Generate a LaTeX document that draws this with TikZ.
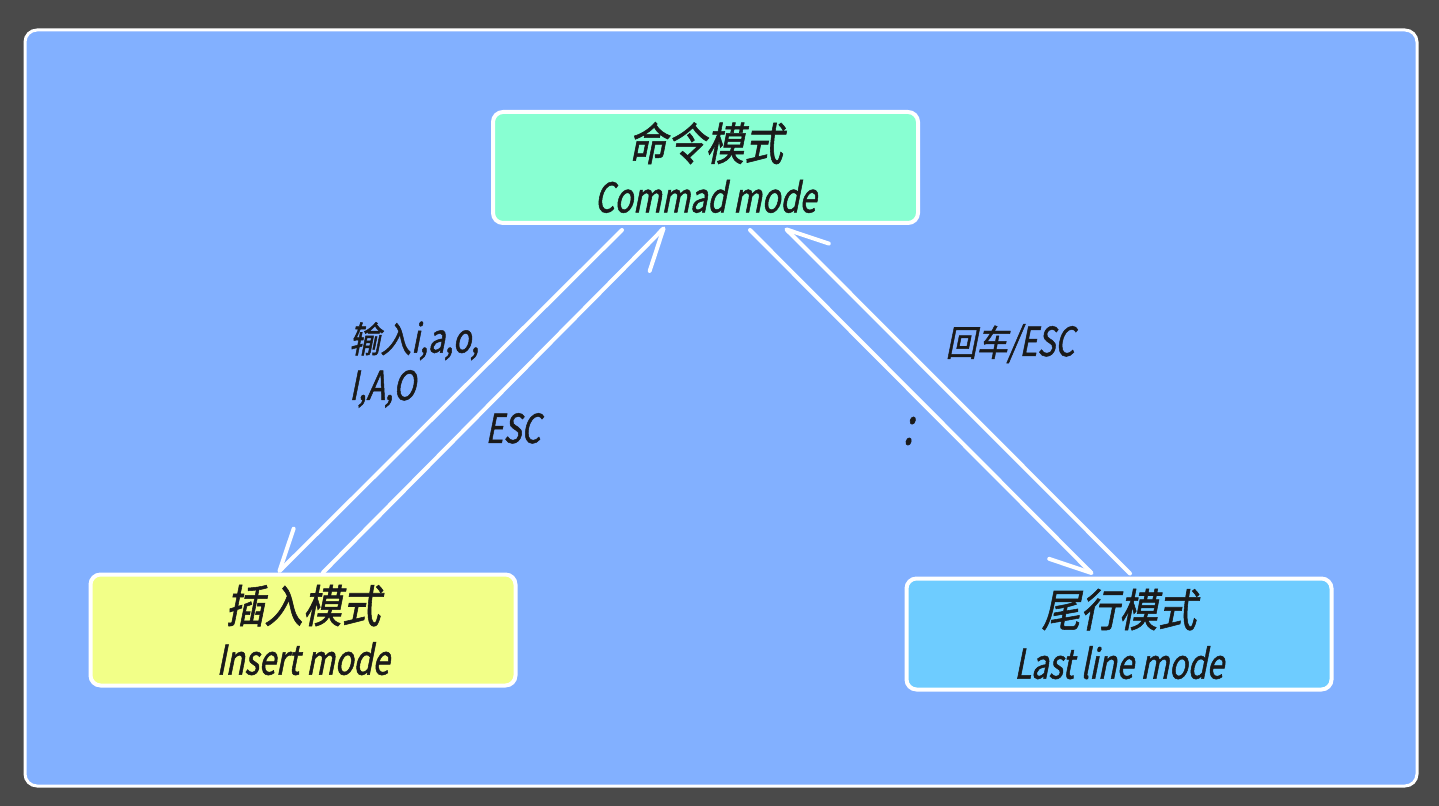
\documentclass[tikz,border=0pt]{standalone}
\usepackage{fontspec}
\usetikzlibrary{arrows.meta,calc}
\newfontfamily\cjkfont[FakeSlant=0.2,FakeStretch=0.86,FakeBold=1.2]{Noto Sans CJK SC}
\newfontfamily\latfont[FakeSlant=0.2,FakeStretch=0.75,FakeBold=1.2]{Noto Sans CJK SC}
\newcommand{\boxcjk}{\cjkfont\fontsize{22.5pt}{26pt}\selectfont}
\newcommand{\boxlat}{\latfont\fontsize{20.5pt}{26pt}\selectfont}
\newcommand{\labcjk}{\cjkfont\fontsize{18pt}{22.5pt}\selectfont}
\newcommand{\lablat}{\latfont\fontsize{20pt}{22.5pt}\selectfont}
\definecolor{bgc}{HTML}{4A4A4A}
\definecolor{panelc}{HTML}{82B0FF}
\definecolor{cmdc}{HTML}{88FFD2}
\definecolor{insc}{HTML}{F2FF88}
\definecolor{lastc}{HTML}{6ECCFF}
\definecolor{txtc}{HTML}{1A1A1A}
\begin{document}
\begin{tikzpicture}[x=0.5pt,y=-0.5pt,
  modebox/.style={draw=white, line width=2pt, rounded corners=5pt, minimum width=212.5pt, minimum height=55.5pt, outer sep=0pt, inner sep=0pt, align=center, text=txtc, font=\boxcjk},
  conn/.style={draw=white, line width=2pt, line cap=round, -{Straight Barb[harpoon,swap,length=20pt,width=20pt,round]}},
  lbl/.style={text=txtc, inner sep=0pt}]
\fill[bgc] (0,0) rectangle (1439,806);
\draw[white, line width=1.5pt, fill=panelc, rounded corners=6pt] (25,30) rectangle (1417,786);

\node[modebox, fill=cmdc] (cmd) at (705.5,167.5) {命令模式\\{\boxlat Commad mode}};
\node[modebox, fill=insc] (ins) at (303,630) {插入模式\\{\boxlat Insert mode}};
\node[modebox, fill=lastc] (last) at (1119,634) {尾行模式\\{\boxlat Last line mode}};

\draw[conn] ([shift={(-83.5,7)}]cmd.south) -- ([shift={(-25,-2)}]ins.north);
\draw[conn] ([shift={(20,-2)}]ins.north) -- ([shift={(-40.5,4)}]cmd.south);
\draw[conn] ([shift={(44.5,7)}]cmd.south) -- ([shift={(-26,-4)}]last.north);
\draw[conn] ([shift={(11,-5)}]last.north) -- ([shift={(79.5,5)}]cmd.south);

\node[lbl, anchor=base west, align=left] (lin) at (349,400) {{\labcjk 输入}{\lablat i,a,o,}\\[4pt]{\lablat I,A,O}};
\node[lbl, anchor=base] (lesc) at (513,443) {\lablat ESC};
\node[lbl, anchor=base] (lret) at (1010,356) {{\labcjk 回车}{\lablat /ESC}};
\node[lbl] (lcolon) at (908,431) {\latfont\fontsize{26pt}{26pt}\selectfont :};
\end{tikzpicture}
\end{document}
